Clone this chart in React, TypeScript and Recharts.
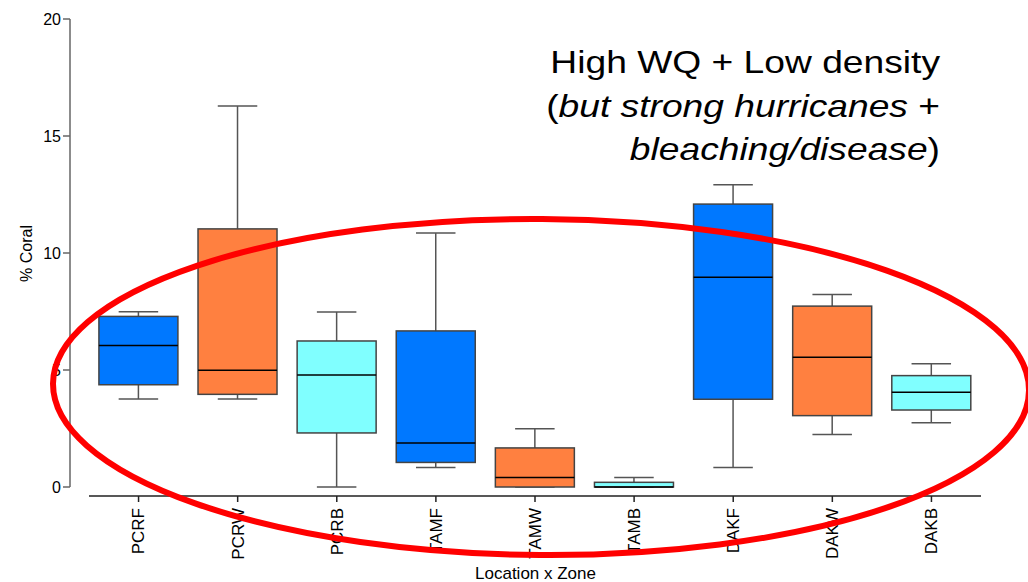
import { Bar, ComposedChart, XAxis, YAxis } from 'recharts';

const zones = ['PCRF', 'PCRW', 'PCRB', 'TAMF', 'TAMW', 'TAMB', 'DAKF', 'DAKW', 'DAKB'];
const whiskerLow = [3.76, 3.76, 0, 0.83, 0, 0, 0.83, 2.24, 2.75];
const q1 = [4.37, 3.96, 2.31, 1.05, 0, 0, 3.75, 3.05, 3.29];
const median = [6.05, 4.99, 4.79, 1.88, 0.41, 0, 8.96, 5.54, 4.05];
const q3 = [7.29, 11.03, 6.24, 6.67, 1.67, 0.2, 12.09, 7.73, 4.76];
const whiskerHigh = [7.49, 16.28, 7.48, 10.85, 2.49, 0.41, 12.92, 8.23, 5.27];
const boxColors = ['#0078ff', '#ff8040', '#80ffff', '#0078ff', '#ff8040', '#80ffff', '#0078ff', '#ff8040', '#80ffff'];
const yTicks = [0, 5, 10, 15, 20];

const FONT = "Arial, 'Liberation Sans', sans-serif";

const rows = zones.map((zone, i) => ({
  zone,
  range: [whiskerLow[i], whiskerHigh[i]],
  q1: q1[i],
  median: median[i],
  q3: q3[i],
  color: boxColors[i],
}));

function BoxShape(props: any) {
  const { x, y, width, height, payload } = props;
  const [lo, hi] = payload.range;
  const k = height / (hi - lo);
  const py = (v: number) => y + (hi - v) * k;
  const cx = x + width / 2;
  const cap = width / 4;
  return (
    <g>
      <line x1={cx} x2={cx} y1={py(hi)} y2={py(payload.q3)} stroke="#555" strokeWidth={1.5} />
      <line x1={cx} x2={cx} y1={py(payload.q1)} y2={py(lo)} stroke="#555" strokeWidth={1.5} />
      <line x1={cx - cap} x2={cx + cap} y1={py(hi)} y2={py(hi)} stroke="#555" strokeWidth={1.5} />
      <line x1={cx - cap} x2={cx + cap} y1={py(lo)} y2={py(lo)} stroke="#555" strokeWidth={1.5} />
      <rect
        x={x}
        y={py(payload.q3)}
        width={width}
        height={py(payload.q1) - py(payload.q3)}
        fill={payload.color}
        stroke="#444"
        strokeWidth={1.5}
      />
      <line x1={x} x2={x + width} y1={py(payload.median)} y2={py(payload.median)} stroke="#000" strokeWidth={1.5} />
    </g>
  );
}

function ZoneTick({ x, y, payload }: any) {
  const ty = y + 4;
  return (
    <text
      x={x}
      y={ty}
      transform={`rotate(-90 ${x} ${ty})`}
      textAnchor="end"
      dy="0.35em"
      fontSize={17}
      fontFamily={FONT}
      fill="#000"
    >
      {payload.value}
    </text>
  );
}

export default function App() {
  return (
    <div style={{ position: 'absolute', left: 0, top: 0, width: 1028, height: 582, background: '#fff' }}>
      <ComposedChart
        width={1028}
        height={582}
        data={rows}
        margin={{ top: 19, right: 47, bottom: 0, left: 0 }}
        barCategoryGap="10%"
      >
        <XAxis
          dataKey="zone"
          height={86}
          padding={{ left: 19, right: 0 }}
          axisLine={{ stroke: '#222', strokeWidth: 1.5, strokeDasharray: '0 19 2000' }}
          tickLine={{ stroke: '#222', strokeWidth: 1.5 }}
          tickSize={6}
          tick={<ZoneTick />}
          interval={0}
          label={{ value: 'Location x Zone', position: 'insideBottom', offset: 3, dx: 10, fill: '#000', fontSize: 17, fontFamily: FONT }}
        />
        <YAxis
          width={70}
          domain={[0, 20]}
          ticks={yTicks}
          padding={{ top: 0, bottom: 9 }}
          axisLine={{ stroke: '#666', strokeWidth: 1.5, strokeDasharray: '468 100' }}
          tickLine={{ stroke: '#666', strokeWidth: 1.5 }}
          tickSize={7}
          tick={{ fill: '#000', fontSize: 16, fontFamily: FONT }}
          label={{ value: '% Coral', angle: -90, position: 'center', dx: -9, dy: -4, fill: '#000', fontSize: 16, fontFamily: FONT }}
        />
        <Bar dataKey="range" shape={<BoxShape />} isAnimationActive={false} />
      </ComposedChart>
      <svg
        width={1028}
        height={582}
        style={{ position: 'absolute', left: 0, top: 0, pointerEvents: 'none' }}
      >
        <ellipse
          cx={541}
          cy={387}
          rx={488}
          ry={168}
          transform="rotate(0.4 541 387)"
          fill="none"
          stroke="#ff0000"
          strokeWidth={6}
        />
        <g transform="translate(940 0) scale(1.2 1)" fontFamily={FONT} fontSize={31} fill="#000" textAnchor="end">
          <text x={0} y={73}>High WQ + Low density</text>
          <text x={0} y={117}>
            (<tspan fontStyle="italic">but strong hurricanes</tspan> +
          </text>
          <text x={0} y={160}>
            <tspan fontStyle="italic">bleaching/disease</tspan>)
          </text>
        </g>
      </svg>
    </div>
  );
}
